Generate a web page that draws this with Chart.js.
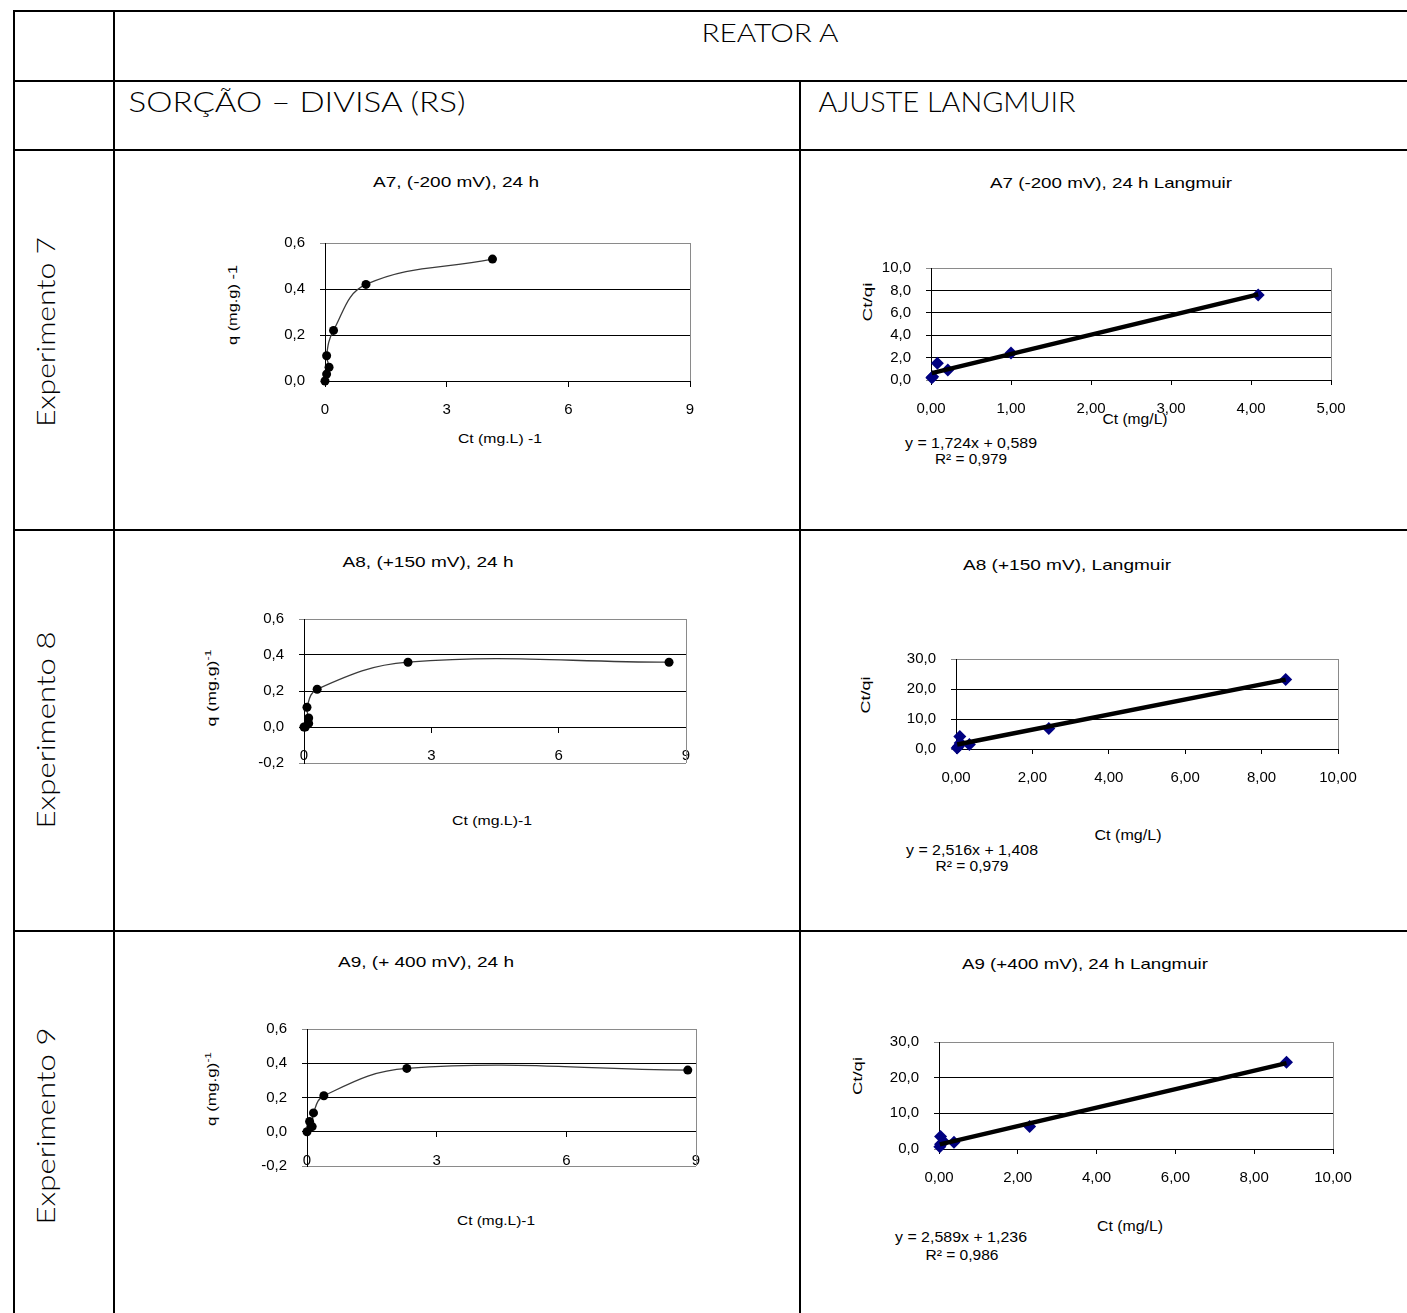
<!DOCTYPE html>
<html>
<head>
<meta charset="utf-8">
<script src="https://cdn.jsdelivr.net/npm/chart.js@4.4.1/dist/chart.umd.min.js"></script>
<style>
  html, body { margin: 0; padding: 0; background: #fff; }
  body { position: relative; width: 1407px; height: 1313px; overflow: hidden; }
  .ln { position: absolute; background: #000; }
  .t { position: absolute; white-space: nowrap; line-height: 1; color: #000; }
  .h { font-weight: 300; }
  canvas { position: absolute; }
</style>
</head>
<body>
<script>
// ---------------- DATA ----------------
// Sorção (q vs Ct)
const a7Ct = [0, 0.04, 0.10, 0.04, 0.21, 1.01, 4.13];
const a7q  = [0, 0.03, 0.06, 0.11, 0.22, 0.42, 0.53];
const a8Ct = [0, 0.03, 0.11, 0.11, 0.07, 0.31, 2.45, 8.60];
const a8q  = [0, 0.00, 0.02, 0.05, 0.11, 0.21, 0.36, 0.36];
const a9Ct = [0, 0.06, 0.09, 0.12, 0.15, 0.39, 2.31, 8.81];
const a9q  = [0, 0.06, 0.03, 0.03, 0.11, 0.21, 0.37, 0.36];

// Langmuir (Ct/qi vs Ct)
const a7LangCt  = [0.01, 0.02, 0.08, 0.21, 1.00, 4.09];
const a7LangCtq = [0.2, 0.3, 1.5, 0.9, 2.4, 7.6];
const a8LangCt  = [0.03, 0.06, 0.10, 0.11, 0.35, 2.43, 8.63];
const a8LangCtq = [0.3, 0.8, 4.2, 2.0, 1.5, 6.8, 23.2];
const a9LangCt  = [0.02, 0.04, 0.04, 0.12, 0.38, 2.30, 8.82];
const a9LangCtq = [0.6, 1.3, 3.5, 2.0, 1.9, 6.3, 24.3];

// Trendline end points (linear fits shown on the charts)
const a7TrendX = [0.01, 4.09]; const a7TrendY = [0.61, 7.64];
const a8TrendX = [0.03, 8.63]; const a8TrendY = [1.48, 23.12];
const a9TrendX = [0.02, 8.82]; const a9TrendY = [1.29, 24.07];

// Axis ranges [min, max, step]
const sorcaoX   = [0, 9, 3];
const a7SorcaoY = [0, 0.6, 0.2];
const a8SorcaoY = [-0.2, 0.6, 0.2];
const a9SorcaoY = [-0.2, 0.6, 0.2];
const a7LangX = [0, 5, 1];   const a7LangY = [0, 10, 2];
const a8LangX = [0, 10, 2];  const a8LangY = [0, 30, 10];
const a9LangX = [0, 10, 2];  const a9LangY = [0, 30, 10];

// Texts
const headerTitle = 'REATOR A';
const colTitles = ['SORÇÃO – DIVISA (RS)', 'AJUSTE LANGMUIR'];
const rowTitles = ['Experimento 7', 'Experimento 8', 'Experimento 9'];
const sorcaoTitles = ['A7, (-200 mV), 24 h', 'A8, (+150 mV), 24 h', 'A9, (+ 400 mV), 24 h'];
const langTitles = ['A7 (-200 mV), 24 h Langmuir', 'A8 (+150 mV),  Langmuir', 'A9 (+400 mV), 24 h Langmuir'];
const equations = ['y = 1,724x + 0,589', 'y = 2,516x + 1,408', 'y = 2,589x + 1,236'];
const r2Texts = ['R² = 0,979', 'R² = 0,979', 'R² = 0,986'];

// ---------------- TABLE ----------------
function line(l, t, w, h) {
  const d = document.createElement('div');
  d.className = 'ln';
  d.style.left = l + 'px'; d.style.top = t + 'px';
  d.style.width = w + 'px'; d.style.height = h + 'px';
  document.body.appendChild(d);
}
line(13, 10, 1394, 2);
line(13, 80, 1394, 2);
line(13, 149, 1394, 2);
line(13, 529, 1394, 2);
line(13, 930, 1394, 2);
line(13, 10, 2, 1303);
line(113, 10, 2, 1303);
line(799, 80, 2, 1233);

function txt(html, cx, cy, w, size, family, rot, cls) {
  const el = document.createElement('div');
  el.className = 't' + (cls ? ' ' + cls : '');
  el.innerHTML = html;
  el.style.fontSize = size + 'px';
  el.style.fontFamily = family;
  document.body.appendChild(el);
  const nat = el.getBoundingClientRect().width;
  const sx = w ? w / nat : 1;
  el.style.left = cx + 'px';
  el.style.top = cy + 'px';
  el.style.transform = 'translate(-50%,-50%)' + (rot ? ' rotate(-90deg)' : '') + ' scaleX(' + sx + ')';
  return el;
}
const HEAD = 'Lato, "Open Sans", sans-serif';
const ARIAL = '"Liberation Sans", Arial, sans-serif';

txt(headerTitle, 769.5, 32, 137, 26, HEAD, false, 'h');
txt(colTitles[0], 296.5, 101, 337, 27, HEAD, false, 'h');
txt(colTitles[1], 946.5, 101, 257, 27, HEAD, false, 'h');
txt(rowTitles[0], 45, 332, 190, 25, HEAD, true, 'h');
txt(rowTitles[1], 45, 730, 197, 25, HEAD, true, 'h');
txt(rowTitles[2], 45, 1126, 197, 25, HEAD, true, 'h');

// chart titles & axis titles
txt(sorcaoTitles[0], 455.5, 181, 166, 15, ARIAL);
txt(sorcaoTitles[1], 428, 561, 171, 15, ARIAL);
txt(sorcaoTitles[2], 425.5, 961, 176, 15, ARIAL);
txt(langTitles[0], 1111, 182, 242, 15, ARIAL);
txt(langTitles[1], 1066.5, 564, 208, 15, ARIAL);
txt(langTitles[2], 1085, 963, 246, 15, ARIAL);

txt('q (mg.g) -1', 232, 305, 80, 13, ARIAL, true);
txt('q (mg.g)<sup style="font-size:0.7em">-1</sup>', 210.5, 688, 77, 13, ARIAL, true);
txt('q (mg.g)<sup style="font-size:0.7em">-1</sup>', 210.5, 1089, 74, 13, ARIAL, true);
txt('Ct (mg.L) -1', 500, 438, 84, 13, ARIAL);
txt('Ct (mg.L)-1', 492, 820, 80, 13, ARIAL);
txt('Ct (mg.L)-1', 496, 1220, 78, 13, ARIAL);

txt('Ct/qi', 867, 302, 39, 13, ARIAL, true);
txt('Ct/qi', 864.5, 695, 37, 13, ARIAL, true);
txt('Ct/qi', 857, 1076, 38, 13, ARIAL, true);
txt('Ct (mg/L)', 1135, 419, 65, 14, ARIAL);
txt('Ct (mg/L)', 1128, 835, 67, 14, ARIAL);
txt('Ct (mg/L)', 1130, 1226, 66, 14, ARIAL);

txt(equations[0], 971, 443, 132, 14, ARIAL);
txt(r2Texts[0], 971, 459, 72, 14, ARIAL);
txt(equations[1], 972, 850, 132, 14, ARIAL);
txt(r2Texts[1], 971.5, 866, 73, 14, ARIAL);
txt(equations[2], 961, 1237, 132, 14, ARIAL);
txt(r2Texts[2], 961.5, 1255, 73, 14, ARIAL);

// ---------------- CHARTS ----------------
const GRAY = '#8a8a8a';
const TICKFONT = { family: '"Liberation Sans", Arial, sans-serif', size: 15 };
const fmt = (v, d) => Number(v).toFixed(d).replace('.', ',');
const near = (a, b) => Math.abs(a - b) < 1e-9;

const rightBorder = {
  id: 'rightBorder',
  beforeDatasetsDraw(chart) {
    const a = chart.chartArea, c = chart.ctx;
    c.save();
    c.strokeStyle = GRAY; c.lineWidth = 1;
    c.beginPath();
    c.moveTo(Math.round(a.right) + 0.5, a.top);
    c.lineTo(Math.round(a.right) + 0.5, a.bottom);
    c.stroke();
    c.restore();
  }
};

function makeCanvas(plot, m) {
  const c = document.createElement('canvas');
  const w = plot.r - plot.l + m.l + m.r, h = plot.b - plot.t + m.t + m.b;
  c.width = w; c.height = h;
  c.style.width = w + 'px'; c.style.height = h + 'px';
  c.style.left = (plot.l - m.l) + 'px';
  c.style.top = (plot.t - m.t) + 'px';
  document.body.appendChild(c);
  return c;
}

function pts(xs, ys) { return xs.map((x, i) => ({ x: x, y: ys[i] })); }

function yScale(r, dec, mLeft) {
  return {
    type: 'linear', position: 'left', min: r[0], max: r[1],
    ticks: { stepSize: r[2], padding: 15, color: '#000', font: TICKFONT,
             callback: v => fmt(v, dec) },
    grid: { color: ctx => (ctx.tick && (near(ctx.tick.value, r[1]) || near(ctx.tick.value, r[0]))) ? GRAY : '#000',
            tickLength: 5, lineWidth: 1 },
    border: { color: '#000', width: 1 },
    afterFit: s => { s.width = mLeft; }
  };
}

function sorcaoChart(plot, xs, ys, yr) {
  const m = { l: 70, t: 12, r: 30, b: 40 };
  const cv = makeCanvas(plot, m);
  new Chart(cv, {
    type: 'scatter',
    data: { datasets: [{
      data: pts(xs, ys),
      showLine: true, tension: 0.4,
      borderColor: '#3a3a3a', borderWidth: 1.3,
      pointRadius: 4.5, pointBackgroundColor: '#000', pointBorderColor: '#000', pointBorderWidth: 0,
      clip: false
    }]},
    options: {
      responsive: false, animation: false, devicePixelRatio: 1,
      layout: { padding: { left: 0, top: m.t, right: m.r, bottom: m.b } },
      plugins: { legend: { display: false }, tooltip: { enabled: false }, title: { display: false } },
      scales: {
        x: { type: 'linear', position: { y: 0 }, min: sorcaoX[0], max: sorcaoX[1],
             ticks: { stepSize: sorcaoX[2], padding: 15, color: '#000', font: TICKFONT, callback: v => String(v) },
             grid: { drawOnChartArea: false, drawTicks: true, tickLength: 5, color: '#000' },
             border: { color: '#000', width: 1 } },
        y: yScale(yr, 1, m.l)
      }
    },
    plugins: [rightBorder]
  });
}

function langChart(plot, xs, ys, tx, ty, xr, yr) {
  const m = { l: 70, t: 12, r: 40, b: 40 };
  const cv = makeCanvas(plot, m);
  new Chart(cv, {
    type: 'scatter',
    data: { datasets: [
      { data: pts(tx, ty), showLine: true, borderColor: '#000', borderWidth: 4.5,
        pointRadius: 0, order: 0, clip: false },
      { data: pts(xs, ys), pointStyle: 'rectRot', pointRadius: 6.5,
        pointBackgroundColor: '#000080', pointBorderColor: '#000080', pointBorderWidth: 0,
        order: 1, clip: false }
    ]},
    options: {
      responsive: false, animation: false, devicePixelRatio: 1,
      layout: { padding: { left: 0, top: m.t, right: m.r, bottom: 0 } },
      plugins: { legend: { display: false }, tooltip: { enabled: false }, title: { display: false } },
      scales: {
        x: { type: 'linear', position: 'bottom', min: xr[0], max: xr[1],
             ticks: { stepSize: xr[2], padding: 15, color: '#000', font: TICKFONT, callback: v => fmt(v, 2) },
             grid: { drawOnChartArea: false, drawTicks: true, tickLength: 5, color: '#000' },
             border: { color: '#000', width: 1 },
             afterFit: s => { s.height = m.b; } },
        y: yScale(yr, 1, m.l)
      }
    },
    plugins: [rightBorder]
  });
}

sorcaoChart({ l: 325, t: 231, r: 690, b: 381 }, a7Ct, a7q, a7SorcaoY);
sorcaoChart({ l: 304, t: 607, r: 686, b: 763 }, a8Ct, a8q, a8SorcaoY);
sorcaoChart({ l: 307, t: 1017, r: 696, b: 1166 }, a9Ct, a9q, a9SorcaoY);

langChart({ l: 931, t: 256, r: 1331, b: 380 }, a7LangCt, a7LangCtq, a7TrendX, a7TrendY, a7LangX, a7LangY);
langChart({ l: 956, t: 647, r: 1338, b: 749 }, a8LangCt, a8LangCtq, a8TrendX, a8TrendY, a8LangX, a8LangY);
langChart({ l: 939, t: 1030, r: 1333, b: 1149 }, a9LangCt, a9LangCtq, a9TrendX, a9TrendY, a9LangX, a9LangY);
</script>
</body>
</html>
